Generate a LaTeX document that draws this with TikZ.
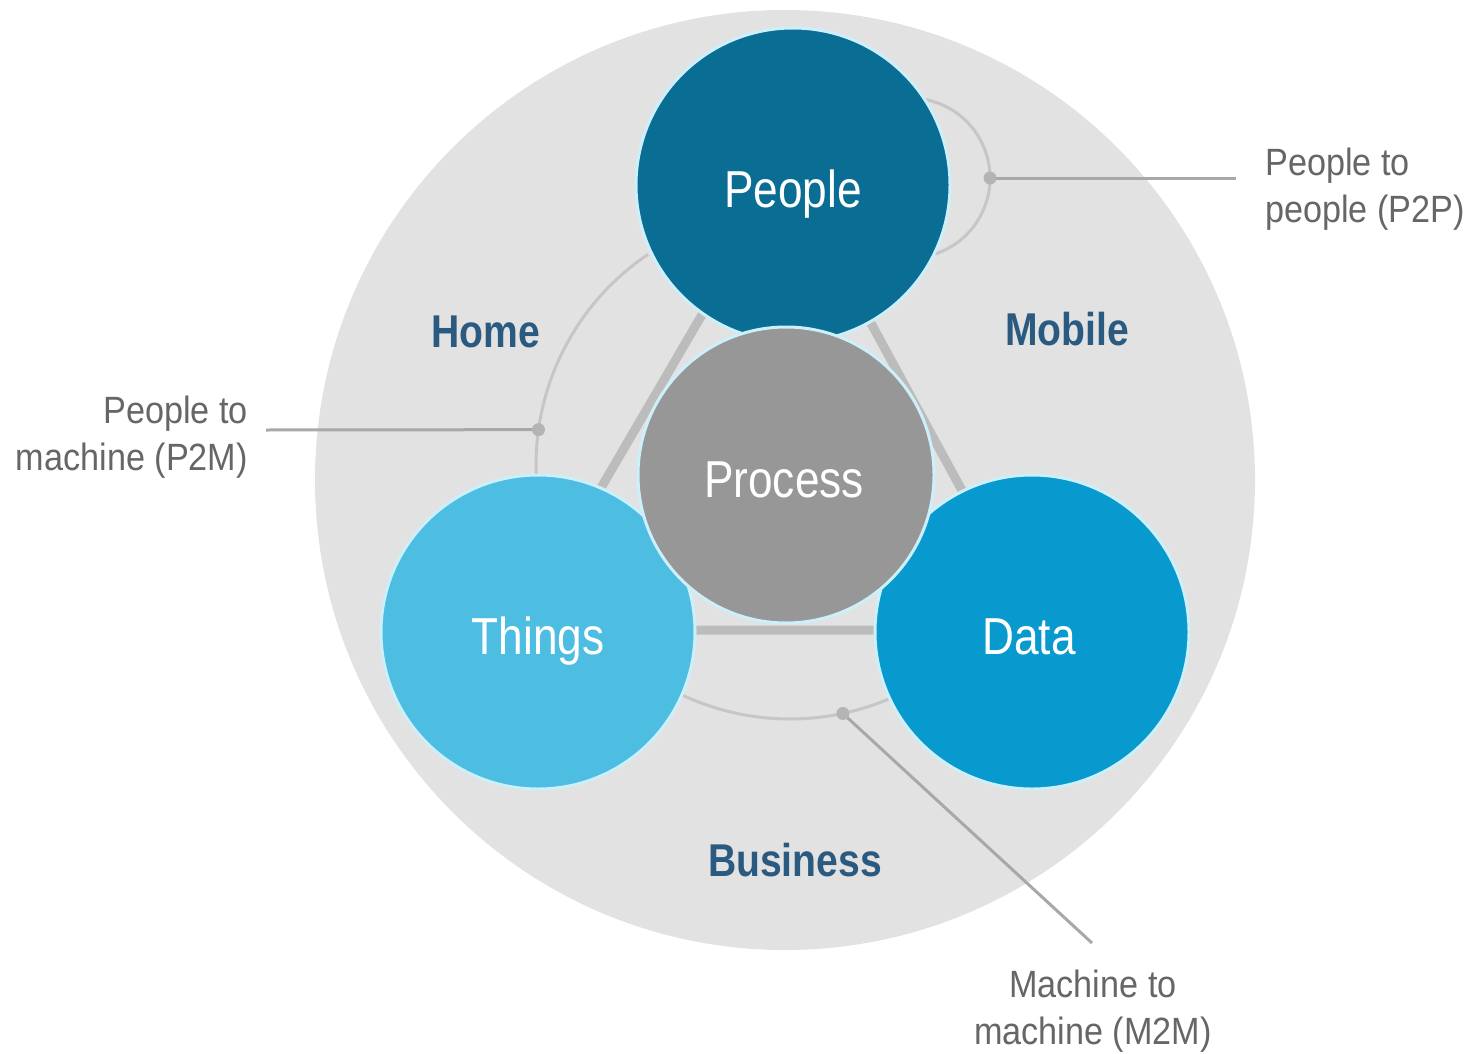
\documentclass[tikz,border=0pt]{standalone}
\usepackage{fontspec}
\usetikzlibrary{calc}
\setmainfont{Liberation Sans}
\newfontfamily\narrowfont[FakeStretch=0.85]{Liberation Sans}
\newfontfamily\calloutfont[FakeStretch=0.9]{Liberation Sans}
\definecolor{bggray}{HTML}{E2E2E2}
\definecolor{peoplecol}{HTML}{0A6E94}
\definecolor{processcol}{HTML}{979797}
\definecolor{thingscol}{HTML}{4EBDE2}
\definecolor{datacol}{HTML}{089ACE}
\definecolor{halocol}{HTML}{CDEFFA}
\definecolor{tricol}{HTML}{BCBCBC}
\definecolor{arccol}{HTML}{C6C6C6}
\definecolor{linecol}{HTML}{A8A8A8}
\definecolor{dotcol}{HTML}{B4B4B4}
\definecolor{labelcol}{HTML}{2B5A80}
\definecolor{textcol}{HTML}{666666}
\tikzset{
  disk/.style={circle, inner sep=0pt, outer sep=0pt, minimum size=314pt, draw=halocol, line width=3pt},
  inlabel/.style={anchor=base, text=white, font=\narrowfont\fontsize{52}{60}\selectfont, inner sep=0pt},
  arealabel/.style={anchor=base, text=labelcol, font=\narrowfont\bfseries\fontsize{46}{54}\selectfont, inner sep=0pt},
  callout/.style={text=textcol, font=\calloutfont\fontsize{38}{47}\selectfont, inner sep=0pt},
  triline/.style={draw=tricol, line width=9pt},
  linkarc/.style={draw=arccol, line width=3pt},
  callline/.style={draw=linecol, line width=3pt},
  dotmark/.style={fill=dotcol}
}
\begin{document}
\begin{tikzpicture}[x=1pt,y=-1pt]
\useasboundingbox (0,0) rectangle (1474,1054);
% background disk
\node[circle, fill=bggray, inner sep=0pt, minimum size=940pt] (bg) at (785,480) {};
% triangle
\coordinate (tA) at (787,169);
\coordinate (tB) at (518,630);
\coordinate (tC) at (1038,630);
\draw[triline] (tA) -- (tB) -- (tC) -- cycle;
% link arcs
\coordinate (ac) at (790,465);
\coordinate (pc) at (910,178);
\draw[linkarc] (ac) ++(124:254pt) arc[start angle=124, end angle=192, radius=254pt];
\draw[linkarc] (ac) ++(238:254pt) arc[start angle=238, end angle=302, radius=254pt];
\draw[linkarc] (pc) ++(-115:80pt) arc[start angle=-115, end angle=115, radius=80pt];
\coordinate (p2mdot) at ($(ac)+(172:254pt)$);
\coordinate (m2mdot) at ($(ac)+(282:254pt)$);
\coordinate (p2pdot) at ($(pc)+(0:80pt)$);
% circles
\node[disk, fill=peoplecol] (people) at (793,185) {};
\node[disk, fill=thingscol] (things) at (538,632) {};
\node[disk, fill=datacol] (data) at (1032,632) {};
\node[disk, fill=processcol, minimum size=296pt] (process) at (786,475) {};
% inner labels
\node[inlabel] (lpeople) at ([yshift=-22pt]people.center) {People};
\node[inlabel] (lprocess) at ([xshift=-2pt,yshift=-22pt]process.center) {Process};
\node[inlabel] (lthings) at ([yshift=-22pt]things.center) {Things};
\node[inlabel] (ldata) at ([xshift=-3pt,yshift=-22pt]data.center) {Data};
% area labels
\node[arealabel] (home) at (486,347) {Home};
\node[arealabel] (mobile) at (1067,345) {Mobile};
\node[arealabel] (business) at (795,876) {Business};
% callout connectors
\coordinate (p2pend) at (1236,178);
\coordinate (p2mend) at (266,430);
\coordinate (m2mend) at (1092,943);
\draw[callline] (p2pdot) -- (p2pend);
\draw[callline] (p2mdot) -- (p2mend);
\draw[callline] (m2mdot) -- (m2mend);
\fill[dotmark] (p2pdot) circle (6.5pt);
\fill[dotmark] (p2mdot) circle (6.5pt);
\fill[dotmark] (m2mdot) circle (6.5pt);
% callout texts (base anchor = last line baseline)
\node[callout, anchor=base west, align=left] (tp2p) at (1265,222) {People to\\people (P2P)};
\node[callout, anchor=base east, align=right] (tp2m) at (248,470) {People to\\machine (P2M)};
\node[callout, anchor=base, align=center] (tm2m) at (1093,1044) {Machine to\\machine (M2M)};
\end{tikzpicture}
\end{document}
